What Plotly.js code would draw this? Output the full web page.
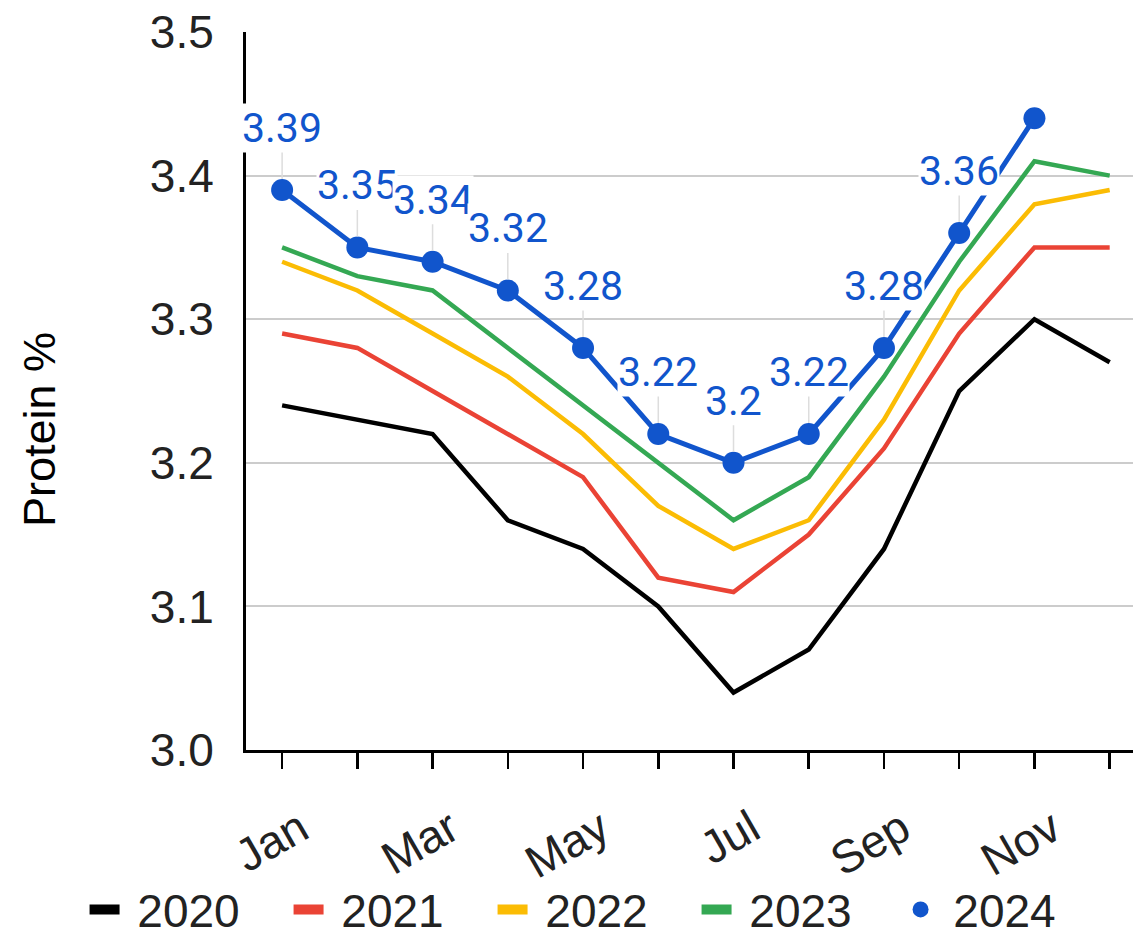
<!DOCTYPE html>
<html>
<head>
<meta charset="utf-8">
<script src="https://cdn.plot.ly/plotly-3.0.1.min.js"></script>
<style>html,body{margin:0;padding:0;background:#fff;}#chart{width:1133px;height:946px;}</style>
</head>
<body>
<div id="chart"></div>
<script>
const months = ["Jan","Feb","Mar","Apr","May","Jun","Jul","Aug","Sep","Oct","Nov","Dec"];
const tickText = ["Jan","","Mar","","May","","Jul","","Sep","","Nov",""];
const y2020 = [3.24,3.23,3.22,3.16,3.14,3.10,3.04,3.07,3.14,3.25,3.30,3.27];
const y2021 = [3.29,3.28,3.25,3.22,3.19,3.12,3.11,3.15,3.21,3.29,3.35,3.35];
const y2022 = [3.34,3.32,3.29,3.26,3.22,3.17,3.14,3.16,3.23,3.32,3.38,3.39];
const y2023 = [3.35,3.33,3.32,3.28,3.24,3.20,3.16,3.19,3.26,3.34,3.41,3.40];
const y2024 = [3.39,3.35,3.34,3.32,3.28,3.22,3.20,3.22,3.28,3.36,3.44,null];
const labels2024 = ["3.39","3.35","3.34","3.32","3.28","3.22","3.2","3.22","3.28","3.36","",""];
const seriesNames = ["2020","2021","2022","2023","2024"];
const seriesColors = ["#000000","#EA4335","#FBBC04","#34A853","#1155CC"];
const seriesData = [y2020,y2021,y2022,y2023,y2024];

const traces = [];
seriesData.forEach((ys, i) => {
  const isLast = i === seriesData.length - 1;
  traces.push({
    x: months, y: ys, type: "scatter",
    mode: isLast ? "lines+markers" : "lines",
    name: seriesNames[i],
    line: {color: seriesColors[i], width: isLast ? 5 : 4.5},
    marker: {color: seriesColors[i], size: 22},
    showlegend: false, hoverinfo: "skip"
  });
});
// legend entries
seriesData.forEach((ys, i) => {
  const isLast = i === seriesData.length - 1;
  traces.push({
    x: [null], y: [null], type: "scatter",
    mode: isLast ? "markers" : "lines",
    name: "\u00a0" + seriesNames[i],
    line: {color: seriesColors[i], width: 10},
    marker: {color: seriesColors[i], size: 26},
    showlegend: true, hoverinfo: "skip"
  });
});

const annotations = [];
y2024.forEach((v, i) => {
  if (v === null || !labels2024[i]) return;
  annotations.push({
    x: months[i], y: v, xref: "x", yref: "y",
    text: labels2024[i], showarrow: true, arrowhead: 0, arrowwidth: 1.5,
    arrowcolor: "#dddddd", ax: 0, ay: -62, standoff: 11,
    bgcolor: "rgba(255,255,255,1)", borderpad: 0,
    font: {family: "Roboto, Arial, sans-serif", size: 41, color: "#1155CC"}
  });
});
annotations.push({
  text: "Protein %", xref: "paper", yref: "paper", x: -0.232, y: 0.446,
  xanchor: "center", yanchor: "middle", textangle: -90, showarrow: false,
  font: {family: "Liberation Sans, Arial, sans-serif", size: 45, color: "#000000"}
});

const layout = {
  width: 1133, height: 946,
  margin: {l: 246, r: 0, t: 32, b: 196, autoexpand: false},
  paper_bgcolor: "#ffffff", plot_bgcolor: "#ffffff",
  showlegend: true,
  font: {family: "Liberation Sans, Arial, sans-serif", color: "#222222"},
  xaxis: {
    type: "category", range: [-0.48, 11.31],
    tickvals: months, ticktext: tickText,
    tickangle: -30, ticks: "outside", ticklen: 16, tickwidth: 2.5, tickcolor: "#000000",
    ticklabelshift: 18, ticklabelstandoff: 15,
    showline: true, linecolor: "#000000", linewidth: 3,
    showgrid: false, zeroline: false, automargin: false,
    tickfont: {size: 46, color: "#222222"}
  },
  xaxis2: {
    type: "linear", overlaying: "x", anchor: "y", side: "bottom",
    range: [-0.48, 11.31], tickvals: months.map((m, i) => i),
    ticks: "inside", ticklen: 15, tickwidth: 2.5, tickcolor: "#000000",
    showticklabels: false, showgrid: false, showline: false, zeroline: false
  },
  yaxis: {
    range: [3.0, 3.5], tickvals: [3.0,3.1,3.2,3.3,3.4,3.5],
    ticktext: ["3.0","3.1","3.2","3.3","3.4","3.5"],
    showgrid: true, gridcolor: "#cccccc", gridwidth: 2,
    showline: true, linecolor: "#000000", linewidth: 3,
    zeroline: false, ticks: "", ticklabelstandoff: 20, automargin: false,
    tickfont: {size: 46, color: "#222222"}
  },
  legend: {
    orientation: "h", x: -0.182, xanchor: "left", y: -0.273, yanchor: "bottom",
    bgcolor: "rgba(0,0,0,0)",
    font: {size: 46, color: "#222222"}, entrywidth: 159, itemclick: false
  },
  annotations: annotations
};

Plotly.newPlot("chart", traces, layout, {displayModeBar: false, staticPlot: true});
</script>
</body>
</html>
